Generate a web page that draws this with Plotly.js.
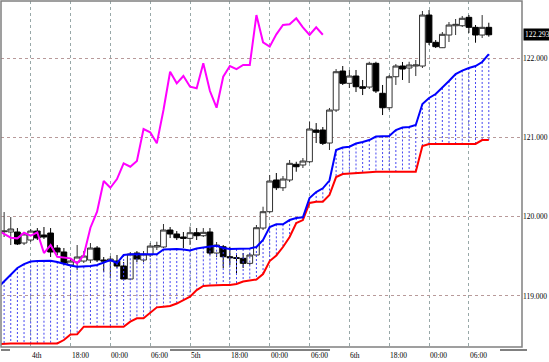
<!DOCTYPE html>
<html><head><meta charset="utf-8">
<script src="https://cdn.plot.ly/plotly-3.0.1.min.js"></script>
<style>html,body{margin:0;padding:0;background:#fff;overflow:hidden}#chart{width:549px;height:362px}</style>
</head><body><div id="chart"></div>
<script>
// Hourly bars; the first entry (bar -1) only carries the indicator lines.
const open = [null,
119.810,119.806,119.806,119.667,119.705,119.818,119.768,119.793,119.604,119.554,
119.390,119.428,119.440,119.453,119.604,119.453,119.440,119.440,119.377,119.213,
119.541,119.453,119.516,119.617,119.617,119.831,119.781,119.743,119.726,119.797,
119.759,119.806,119.541,119.620,119.494,119.482,119.474,119.411,119.516,119.856,
120.062,120.462,120.364,120.462,120.660,120.651,120.692,121.092,121.092,120.928,
121.344,121.836,121.681,121.773,121.638,121.634,121.933,121.555,121.373,121.764,
121.899,121.874,121.899,121.899,122.542,122.198,122.130,122.290,122.407,122.407,
122.513,122.387,122.290,122.387];
const high = [null,
120.058,119.995,119.856,119.806,119.844,119.856,119.869,119.856,119.642,119.604,
119.478,119.642,119.566,119.667,119.629,119.491,119.503,119.516,119.428,119.554,
119.566,119.566,119.667,119.684,119.907,119.869,119.818,119.806,119.873,119.856,
119.856,119.856,119.680,119.642,119.620,119.541,119.541,119.541,119.894,120.125,
120.525,120.550,120.512,120.714,120.692,120.739,121.197,121.180,121.130,121.370,
121.861,121.899,121.849,121.849,121.723,121.953,121.953,121.660,121.786,121.924,
121.950,121.953,121.975,122.593,122.605,122.227,122.328,122.454,122.492,122.530,
122.542,122.416,122.542,122.445];
const low = [null,
119.743,119.642,119.642,119.642,119.680,119.705,119.718,119.491,119.516,119.390,
119.352,119.327,119.415,119.415,119.428,119.301,119.226,119.352,119.200,119.200,
119.428,119.428,119.491,119.579,119.604,119.730,119.705,119.604,119.642,119.705,
119.743,119.516,119.491,119.352,119.390,119.289,119.352,119.390,119.491,119.831,
120.045,120.335,120.323,120.436,120.566,120.613,120.676,120.928,120.903,120.840,
121.319,121.660,121.622,121.571,121.533,121.609,121.559,121.281,121.344,121.660,
121.723,121.685,121.773,121.874,122.164,122.126,122.126,122.202,122.290,122.391,
122.315,122.193,122.252,122.269];
const close = [null,
119.818,119.844,119.655,119.781,119.818,119.730,119.743,119.554,119.554,119.415,
119.440,119.491,119.503,119.604,119.453,119.440,119.465,119.377,119.213,119.528,
119.465,119.528,119.629,119.636,119.831,119.781,119.734,119.726,119.797,119.759,
119.802,119.541,119.642,119.494,119.482,119.474,119.411,119.516,119.860,120.062,
120.449,120.364,120.474,120.672,120.629,120.701,121.105,121.063,120.924,121.344,
121.827,121.681,121.773,121.638,121.618,121.933,121.584,121.373,121.764,121.899,
121.861,121.912,121.912,122.542,122.198,122.143,122.299,122.416,122.425,122.501,
122.387,122.290,122.387,122.293];
// Cloud span lines (blue and red)
const spanBlue = [119.100,
119.188,119.264,119.352,119.402,119.434,119.440,119.444,119.444,119.428,119.402,
119.383,119.368,119.371,119.377,119.390,119.421,119.453,119.415,119.516,119.525,
119.525,119.525,119.525,119.525,119.585,119.591,119.591,119.585,119.572,119.598,
119.613,119.623,119.633,119.604,119.591,119.591,119.591,119.598,119.617,119.705,
119.869,119.903,119.903,119.957,119.982,119.991,120.235,120.310,120.357,120.455,
120.840,120.871,120.882,120.922,120.941,120.966,121.010,121.016,121.016,121.092,
121.124,121.130,121.155,121.420,121.496,121.546,121.622,121.710,121.798,121.842,
121.874,121.899,121.950,122.050];
const spanRed = [118.393,
118.400,118.400,118.400,118.400,118.400,118.400,118.400,118.400,118.400,118.444,
118.513,118.516,118.612,118.612,118.612,118.612,118.612,118.612,118.612,118.675,
118.718,118.718,118.784,118.856,118.864,118.873,118.904,118.948,118.990,119.074,
119.125,119.131,119.137,119.137,119.137,119.150,119.182,119.192,119.207,119.276,
119.440,119.510,119.617,119.743,119.919,119.957,120.172,120.188,120.188,120.272,
120.499,120.537,120.541,120.546,120.546,120.559,120.566,120.566,120.566,120.566,
120.566,120.566,120.566,120.890,120.916,120.916,120.916,120.916,120.916,120.916,
120.916,120.916,120.966,120.966];
// Lagging (magenta) line, starting at bar -1
const lagging = [119.831,
119.781,119.734,119.726,119.797,119.759,119.802,119.541,119.642,119.494,119.482,
119.474,119.411,119.516,119.860,120.062,120.449,120.364,120.474,120.672,120.629,
120.701,121.105,121.063,120.924,121.344,121.827,121.681,121.773,121.638,121.618,
121.933,121.584,121.373,121.764,121.899,121.861,121.912,121.912,122.542,122.198,
122.143,122.299,122.416,122.425,122.501,122.387,122.290,122.387,122.293];

const timeTickBars = [4,10,16,22,28,34,40,46,52,58,64,70];
const timeTickText = ['4th','18:00','00:00','06:00','5th','18:00','00:00','06:00','6th','18:00','00:00','06:00'];
const priceTicks = [119,120,121,122];
const priceTickText = ['119.000','120.000','121.000','122.000'];
const lastPriceText = '122.293';

const bars = open.map((_, k) => k - 1);
const lastClose = close[close.length - 1];

// Dotted vertical hatching between the two span lines
const hatchX = [], hatchY = [];
bars.forEach((b, k) => { hatchX.push(b, b, null); hatchY.push(spanBlue[k], spanRed[k], null); });

const FONT = 'Liberation Serif, DejaVu Serif, serif';

const data = [
  {type:'scatter', mode:'lines', x:hatchX, y:hatchY, hoverinfo:'skip',
   line:{color:'#4646f0', width:1, dash:'2px,2px'}},
  {type:'candlestick', x:bars, open:open, high:high, low:low, close:close, hoverinfo:'skip',
   whiskerwidth:0,
   increasing:{line:{color:'#303030', width:1}, fillcolor:'#ffffff'},
   decreasing:{line:{color:'#000000', width:1}, fillcolor:'#000000'}},
  {type:'scatter', mode:'lines', x:bars, y:spanRed, hoverinfo:'skip', line:{color:'#ff0000', width:2}},
  {type:'scatter', mode:'lines', x:bars, y:spanBlue, hoverinfo:'skip', line:{color:'#0000ff', width:2}},
  {type:'scatter', mode:'lines', x:bars.slice(0, lagging.length), y:lagging, hoverinfo:'skip', line:{color:'#ff00ff', width:2}}
];

const annotations = timeTickBars.map((b, k) => ({
  x:b, xref:'x', xanchor:'left', y:0, yref:'paper', yanchor:'top', yshift:-3,
  text:timeTickText[k], showarrow:false, borderpad:0,
  font:{family:FONT, size:7.5, color:'#000'}
}));
annotations.push({
  x:1, xref:'paper', xanchor:'left', xshift:1, y:lastClose, yref:'y', yanchor:'middle',
  text:lastPriceText, showarrow:false, bgcolor:'#000', borderpad:1,
  font:{family:FONT, size:7.5, color:'#fff'}
});

const grey = '#808080';
const layout = {
  width:549, height:362,
  margin:{l:1, r:27, t:1, b:15},
  paper_bgcolor:'#ffffff', plot_bgcolor:'#ffffff',
  showlegend:false,
  boxgap:0.14, boxgroupgap:0,
  xaxis:{range:[-0.47, 78.0], tickvals:timeTickBars, showticklabels:false, ticks:'',
         showgrid:true, gridcolor:'#98a8a8', griddash:'dot', gridwidth:1,
         zeroline:false, showline:false, rangeslider:{visible:false}, fixedrange:true},
  yaxis:{side:'right', range:[118.356, 122.719], tickvals:priceTicks, ticktext:priceTickText,
         tickfont:{family:FONT, size:7.5, color:'#000'}, ticks:'',
         showgrid:true, gridcolor:'#b89a9a', griddash:'dot', gridwidth:1,
         zeroline:false, showline:false, fixedrange:true},
  shapes:[
    {type:'rect', xref:'paper', yref:'paper', x0:0, x1:1, y0:0, y1:1, line:{color:grey, width:1.5}},
    {type:'line', xref:'paper', yref:'paper', x0:0, x1:0.0173, y0:-0.0087, y1:-0.0087, line:{color:grey, width:2}},
    {type:'line', xref:'paper', yref:'paper', x0:0.3244, x1:0.6315, y0:-0.0087, y1:-0.0087, line:{color:grey, width:2}},
    {type:'line', xref:'paper', yref:'paper', x0:0.9578, x1:1.0096, y0:-0.0087, y1:-0.0087, line:{color:grey, width:2}}
  ],
  annotations:annotations
};

Plotly.newPlot('chart', data, layout, {staticPlot:true, displayModeBar:false});
</script></body></html>
